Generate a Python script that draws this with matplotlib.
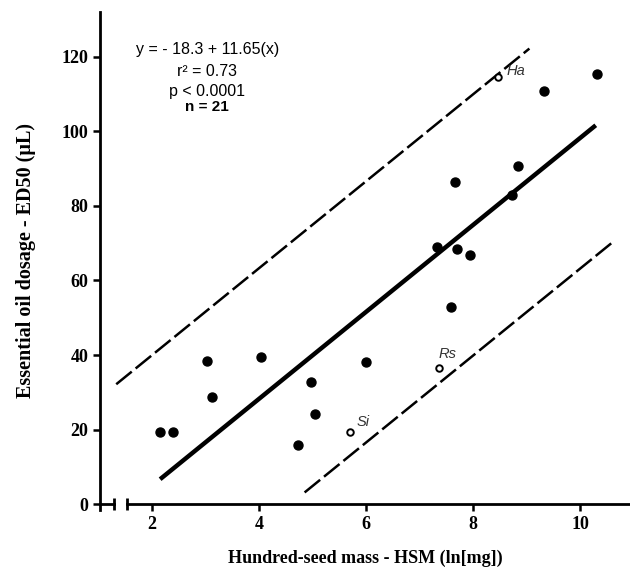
import numpy as np
import matplotlib.pyplot as plt

# data
hsm = [2.15, 2.39, 3.02, 3.12, 4.04, 4.72, 4.97, 5.05, 5.99, 7.33, 7.59,
       7.66, 7.70, 7.94, 8.72, 8.84, 9.33, 10.32]
ed50 = [19.3, 19.3, 38.4, 28.7, 39.5, 15.9, 32.8, 24.1, 38.1, 69.1, 52.8,
        86.4, 68.5, 66.7, 82.8, 90.8, 110.8, 115.4]

open_names = ['Si', 'Rs', 'Ha']
open_hsm = [5.69, 7.36, 8.47]
open_ed50 = [19.4, 36.6, 114.4]
# label offsets (dx, dy) from each open point
label_off = [(0.14, 2.6), (0.0, 3.7), (0.15, 1.6)]

intercept = -18.3
slope = 11.65
band = 35.0

fig = plt.figure(figsize=(6.3, 5.76), dpi=100)
ax = fig.add_axes([0.159, 0.1146, 0.841, 0.865])

xmin, xmax = 1.03, 10.93
ax.set_xlim(xmin, xmax)
ax.set_ylim(-1.5, 132)

# regression line and prediction band
xf = np.array([2.15, 10.29])
ax.plot(xf, intercept + slope * xf, color='black', lw=3.2, solid_capstyle='butt')
xu = np.array([1.33, 9.05])
ax.plot(xu, intercept + slope * xu + band, color='black', lw=1.8,
        dashes=(8, 2))
xl = np.array([4.85, 10.65])
ax.plot(xl, intercept + slope * xl - band, color='black', lw=1.8,
        dashes=(8, 2))

# points
ax.scatter(hsm, ed50, s=42, color='black', zorder=3)
ax.scatter(open_hsm, open_ed50, s=22, facecolor='white', edgecolor='black',
           linewidth=1.4, zorder=4)
for name, x, y, (dx, dy) in zip(open_names, open_hsm, open_ed50, label_off):
    ax.text(x + dx, y + dy, name, fontsize=10.5, style='italic',
            family='Liberation Sans', color='#333333', va='center', ha='left')

# stats text
stats = ['y = - 18.3 + 11.65(x)', 'r² = 0.73', 'p < 0.0001']
ys = [122.0, 116.0, 110.7]
for s, y in zip(stats, ys):
    ax.text(3.03, y, s, fontsize=11.5, family='Liberation Sans', ha='center',
            va='center')
ax.text(3.03, 106.4, 'n = 21', fontsize=11, family='Liberation Sans',
        fontweight='bold', ha='center', va='center')

# axes with break
for side in ['top', 'right']:
    ax.spines[side].set_visible(False)
ax.spines['left'].set_linewidth(2)
ax.spines['bottom'].set_linewidth(2)
ax.spines['bottom'].set_position(('data', 0))
ax.spines['bottom'].set_bounds(1.53, xmax)
ax.plot([xmin, 1.28], [0, 0], color='black', lw=2, clip_on=False)
ax.plot([1.28, 1.53], [0, 0], ls='none', marker='|', ms=9, mew=2,
        color='black', clip_on=False)

ax.set_xticks([2, 4, 6, 8, 10])
ax.set_yticks([0, 20, 40, 60, 80, 100, 120])
ax.tick_params(direction='out', length=5, width=1.8, labelsize=13)
for lab in ax.get_xticklabels() + ax.get_yticklabels():
    lab.set_family('Liberation Serif')
    lab.set_fontweight('bold')

ax.set_xlabel('Hundred-seed mass - HSM (ln[mg])', fontsize=13,
              family='Liberation Serif', fontweight='bold', labelpad=12)
ax.set_ylabel('Essential oil dosage - ED50 (µL)', fontsize=14.5,
              family='Liberation Serif', fontweight='bold', labelpad=18)

fig.savefig('out.png', dpi=100)
